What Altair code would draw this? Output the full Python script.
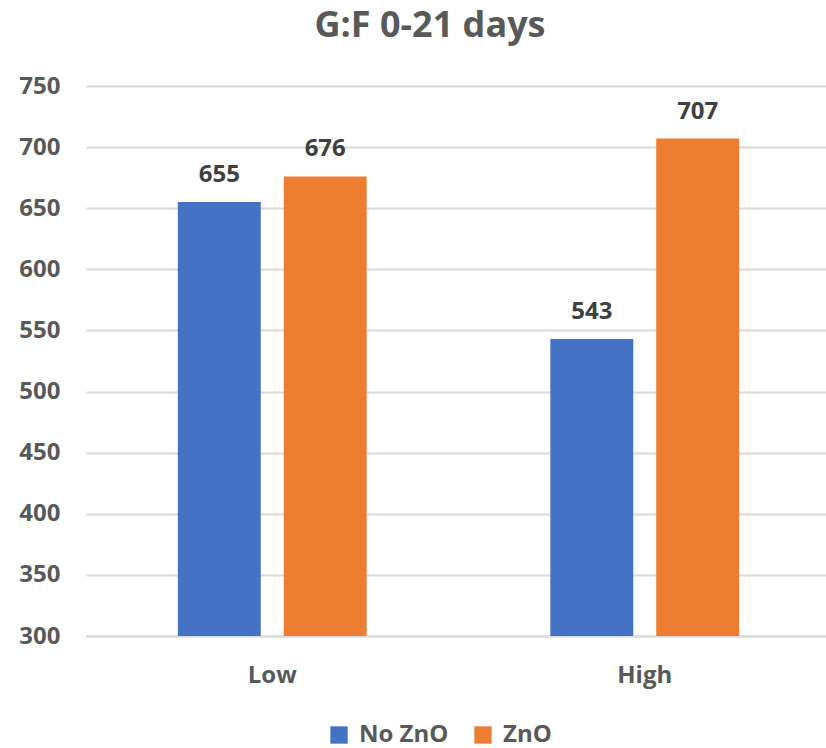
import altair as alt
import pandas as pd

categories = ["Low", "Low", "High", "High"]
series = ["No ZnO", "ZnO", "No ZnO", "ZnO"]
values = [655, 676, 543, 707]

df = pd.DataFrame({"level": categories, "group": series, "value": values})

FONT = "Open Sans"
x = alt.X("level:N", sort=["Low", "High"], title=None,
          scale=alt.Scale(paddingInner=0.493, paddingOuter=0.2465, range=[0, 745]),
          axis=alt.Axis(labelAngle=0, labelFont=FONT, labelFontSize=24, labelFontWeight="bold",
                        labelColor="#595959", labelPadding=27, ticks=False,
                        domainColor="#D9D9D9", domainWidth=2, grid=False))
xo = alt.XOffset("group:N", sort=["No ZnO", "ZnO"],
                 scale=alt.Scale(paddingInner=0.217, paddingOuter=0))
y = alt.Y("value:Q", title=None,
          scale=alt.Scale(domain=[300, 750], zero=False, nice=False),
          axis=alt.Axis(values=list(range(300, 751, 50)), labelFont=FONT, labelFontSize=24,
                        labelFontWeight="bold", labelColor="#595959", labelPadding=26,
                        ticks=False, domain=False, gridColor="#D9D9D9", gridWidth=2))
color = alt.Color("group:N", sort=["No ZnO", "ZnO"],
                  scale=alt.Scale(domain=["No ZnO", "ZnO"], range=["#4472C4", "#ED7D31"]),
                  legend=alt.Legend(title=None, orient="none", direction="horizontal",
                                    legendX=241, legendY=637, symbolType="square",
                                    symbolSize=300, symbolStrokeWidth=0, symbolOpacity=1,
                                    labelFont=FONT, labelFontSize=24, labelFontWeight="bold",
                                    labelColor="#595959", labelOffset=8, columnPadding=22))

base = alt.Chart(df).encode(x=x, xOffset=xo, y=y)
bars = base.mark_bar(clip=True).encode(color=color, y2=alt.datum(300))
labels = base.mark_text(dy=-20, baseline="alphabetic", font=FONT, fontSize=24,
                        fontWeight="bold", color="#404040").encode(text="value:Q")

chart = (bars + labels).properties(
    width=740, height=550,
    autosize=alt.AutoSizeParams(type="none"),
    padding={"left": 86, "top": 86, "right": 0, "bottom": 112},
    title=alt.TitleParams("G:F 0-21 days", font=FONT, fontSize=36, fontWeight="bold",
                          color="#595959", anchor="middle", dx=-26, offset=29),
).configure_view(stroke=None)

chart.save("out.html", embed_options={"renderer": "svg", "actions": False})
